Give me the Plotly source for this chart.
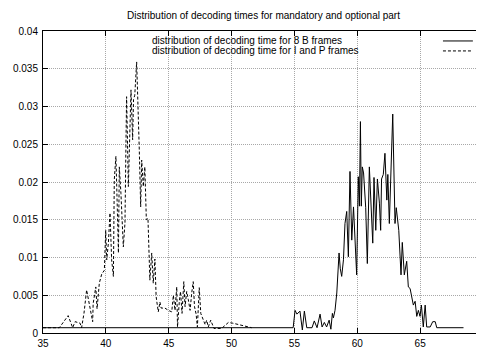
import plotly.graph_objects as go

# 8 B frames distribution (solid)
b_x = [35, 54.9, 55.05, 55.2, 55.44, 55.63, 55.79, 55.98, 56.4, 56.58, 56.8, 57.04, 57.2, 57.38,
       57.56, 57.76, 57.9, 58.02, 58.1, 58.23, 58.37, 58.55, 58.65, 58.76, 58.9, 59.02, 59.16,
       59.29, 59.42, 59.56, 59.7, 59.95, 60.08, 60.17, 60.25, 60.32, 60.4, 60.5, 60.67, 60.8,
       60.96, 61.1, 61.23, 61.33, 61.47, 61.6, 61.76, 61.86, 61.93, 62.07, 62.2, 62.35, 62.43,
       62.55, 62.65, 62.82, 63.0, 63.1, 63.3, 63.48, 63.58, 63.74, 63.93, 64.06, 64.2, 64.33,
       64.46, 64.6, 64.73, 64.86, 64.99, 65.1, 65.25, 65.4, 65.52, 65.8, 66.0, 66.2, 66.32, 68.45]
b_y = [0.0007, 0.0007, 0.003, 0.0025, 0.0029, 0.0004, 0.0029, 0.0007, 0.0007, 0.0016, 0.0007,
       0.0025, 0.0008, 0.0014, 0.0008, 0.0017, 0.0005, 0.0026, 0.002, 0.003, 0.0053, 0.0106,
       0.0085, 0.0075, 0.0097, 0.0145, 0.0161, 0.0101, 0.0214, 0.0123, 0.0167, 0.0077, 0.0207,
       0.0168, 0.028, 0.0168, 0.022, 0.0212, 0.0166, 0.0092, 0.022, 0.0166, 0.0119, 0.0206,
       0.0136, 0.0204, 0.0172, 0.0136, 0.0204, 0.021, 0.0238, 0.0176, 0.021, 0.0145, 0.0205,
       0.029, 0.0145, 0.0166, 0.0136, 0.0077, 0.012, 0.0077, 0.0095, 0.0061, 0.0059, 0.0046,
       0.0037, 0.0042, 0.0022, 0.003, 0.0022, 0.0037, 0.0008, 0.0037, 0.0008, 0.0008, 0.0015,
       0.0015, 0.0007, 0.0007]

# I and P frames distribution (dashed)
ip_x = [35, 36.3, 37.0, 37.36, 37.55, 37.95, 38.07, 38.26, 38.47, 38.68, 38.95, 38.99, 39.2,
        39.3, 39.48, 39.67, 39.88, 39.99, 40.07, 40.2, 40.33, 40.46, 40.6, 40.67, 40.8, 40.9,
        41.0, 41.07, 41.2, 41.39, 41.52, 41.6, 41.65, 41.79, 41.92, 42.0, 42.13, 42.2, 42.3,
        42.45, 42.66, 42.77, 42.85, 42.98, 43.1, 43.22, 43.35, 43.5, 43.65, 43.77, 43.9, 44.0,
        44.17, 44.3, 44.4, 44.7, 44.97, 45.24, 45.37, 45.5, 45.64, 45.7, 45.84, 45.94, 46.06,
        46.2, 46.3, 46.43, 46.56, 46.7, 46.83, 46.95, 47.05, 47.18, 47.28, 47.43, 47.55, 47.7,
        47.9, 48.02, 48.15, 48.34, 48.6, 49.2, 49.75, 50.1, 51.6]
ip_y = [0.0007, 0.0007, 0.0023, 0.0007, 0.0015, 0.0013, 0.0007, 0.0026, 0.0057, 0.0037, 0.0015,
        0.0039, 0.0061, 0.0032, 0.0066, 0.0078, 0.0083, 0.0136, 0.0097, 0.0119, 0.0159, 0.0097,
        0.0075, 0.0203, 0.0234, 0.0172, 0.0106, 0.022, 0.0185, 0.0114, 0.0146, 0.0252, 0.0313,
        0.0194, 0.0273, 0.0322, 0.0256, 0.0309, 0.0315, 0.0359, 0.0242, 0.0167, 0.0229, 0.0194,
        0.022, 0.015, 0.0152, 0.007, 0.0106, 0.0066, 0.0098, 0.0048, 0.0028, 0.0041, 0.0033,
        0.0033, 0.003, 0.0028, 0.005, 0.003, 0.0061, 0.0008, 0.0041, 0.0055, 0.0026, 0.0068,
        0.0035, 0.0055, 0.0044, 0.003, 0.0053, 0.0068, 0.0035, 0.0025, 0.0008, 0.006, 0.0026,
        0.002, 0.0011, 0.0017, 0.0008, 0.0017, 0.0006, 0.0006, 0.0014, 0.0013, 0.0007]

x_ticks = [35, 40, 45, 50, 55, 60, 65, 70]
y_ticks = [0, 0.005, 0.01, 0.015, 0.02, 0.025, 0.03, 0.035, 0.04]
y_labels = ["0", "0.005", "0.01", "0.015", "0.02", "0.025", "0.03", "0.035", "0.04"]

title = "Distribution of decoding times for mandatory and optional part"
leg1 = "distribution of decoding time for 8 B frames"
leg2 = "distribution of decoding time for I and P frames"

font = "Liberation Sans, Arial, sans-serif"

fig = go.Figure()
fig.add_trace(go.Scatter(x=b_x, y=b_y, mode="lines", line=dict(color="black", width=1),
                         showlegend=False))
fig.add_trace(go.Scatter(x=ip_x, y=ip_y, mode="lines",
                         line=dict(color="black", width=1, dash="3px,2px"), showlegend=False))

axis_common = dict(showline=True, mirror="allticks", linecolor="black", linewidth=1,
                   ticks="inside", ticklen=5, tickcolor="black", showgrid=True,
                   gridcolor="#a8a8a8", griddash="1px,1px", gridwidth=1, zeroline=False,
                   automargin=False, ticklabeloverflow="allow",
                   tickfont=dict(family=font, size=10, color="black"))

fig.update_xaxes(range=[35, 70], tickvals=x_ticks, ticktext=[str(v) for v in x_ticks],
                 ticklabelstandoff=1, **axis_common)
fig.update_yaxes(range=[0, 0.04], tickvals=y_ticks, ticktext=y_labels, ticklabelstandoff=2,
                 **axis_common)

fig.add_annotation(text=title, xref="paper", yref="paper", x=0.5, y=1, yshift=16,
                   xanchor="center", yanchor="middle", showarrow=False,
                   font=dict(family=font, size=10, color="black"))
fig.add_annotation(text=leg1, xref="paper", x=0.2455, yref="paper", y=0.967,
                   xanchor="left", yanchor="middle", showarrow=False, borderpad=0,
                   font=dict(family=font, size=10, color="black"))
fig.add_annotation(text=leg2, xref="paper", x=0.2455, yref="paper", y=0.934,
                   xanchor="left", yanchor="middle", showarrow=False, borderpad=0,
                   font=dict(family=font, size=10, color="black"))

fig.add_shape(type="line", xref="paper", yref="paper", x0=0.909, x1=0.977, y0=0.967, y1=0.967,
              line=dict(color="black", width=1))
fig.add_shape(type="line", xref="paper", yref="paper", x0=0.909, x1=0.977, y0=0.934, y1=0.934,
              line=dict(color="black", width=1, dash="3px,2px"))

# page body has an 8px default margin, so the figure is offset by 8px
fig.update_layout(width=484, height=341, margin=dict(l=35, r=9, t=23, b=16, autoexpand=False),
                  paper_bgcolor="white", plot_bgcolor="white", showlegend=False)

fig.write_html("out.html")
